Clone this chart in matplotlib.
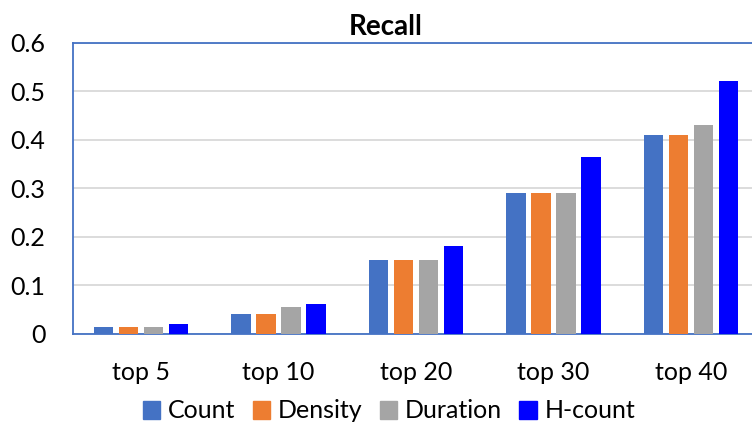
import matplotlib
matplotlib.use("Agg")
import matplotlib.pyplot as plt
import numpy as np

categories = ["top 5", "top 10", "top 20", "top 30", "top 40"]
series_names = ["Count", "Density", "Duration", "H-count"]
count = [0.013, 0.041, 0.152, 0.291, 0.411]
density = [0.013, 0.041, 0.152, 0.291, 0.411]
duration = [0.013, 0.055, 0.152, 0.291, 0.430]
hcount = [0.019, 0.061, 0.180, 0.364, 0.522]
colors = ["#4472C4", "#ED7D31", "#A5A5A5", "#0000FF"]
yticks = [0, 0.1, 0.2, 0.3, 0.4, 0.5, 0.6]
ytick_labels = ["0", "0.1", "0.2", "0.3", "0.4", "0.5", "0.6"]

plt.rcParams['font.family'] = ['Lato', 'DejaVu Sans']

W, H = 752, 424
fs = 18
fig = plt.figure(figsize=(W / 100, H / 100), dpi=100)
left, right, top, bottom = 72.5, 759.4, 43, 333.7
ax = fig.add_axes([left / W, 1 - bottom / H, (right - left) / W, (bottom - top) / H])

x = np.arange(len(categories))
step = 0.182
width = 0.141
for i, (name, vals) in enumerate(zip(series_names, [count, density, duration, hcount])):
    ax.bar(x + (i - 1.5) * step, vals, width, color=colors[i], label=name, zorder=3)

ax.set_xlim(-0.5, len(categories) - 0.5)
ax.set_ylim(0, 0.6)
ax.set_yticks(yticks)
ax.set_yticklabels(ytick_labels, fontsize=fs)
ax.set_xticks(x)
ax.set_xticklabels(categories, fontsize=fs)
ax.tick_params(axis='both', length=0)
ax.tick_params(axis='y', pad=19.5)
ax.tick_params(axis='x', pad=20)
ax.yaxis.grid(True, color='#D9D9D9', linewidth=1.3, zorder=0)
ax.set_axisbelow(True)
for s in ['left', 'top', 'bottom', 'right']:
    ax.spines[s].set_color('#4472C4')
    ax.spines[s].set_linewidth(1.3)

fig.text(386 / W, 1 - 27 / H, "Recall", ha='center', va='center', fontsize=20, fontweight='bold')

handles = [plt.Rectangle((0, 0), 1, 1, color=c) for c in colors]
fig.legend(handles, series_names, loc='center', bbox_to_anchor=(389 / W, 1 - 411 / H),
           ncol=4, frameon=False, fontsize=fs, handlelength=0.7, handleheight=0.7,
           handletextpad=0.3, columnspacing=0.7, borderaxespad=0)

fig.savefig("out.png", dpi=100)
